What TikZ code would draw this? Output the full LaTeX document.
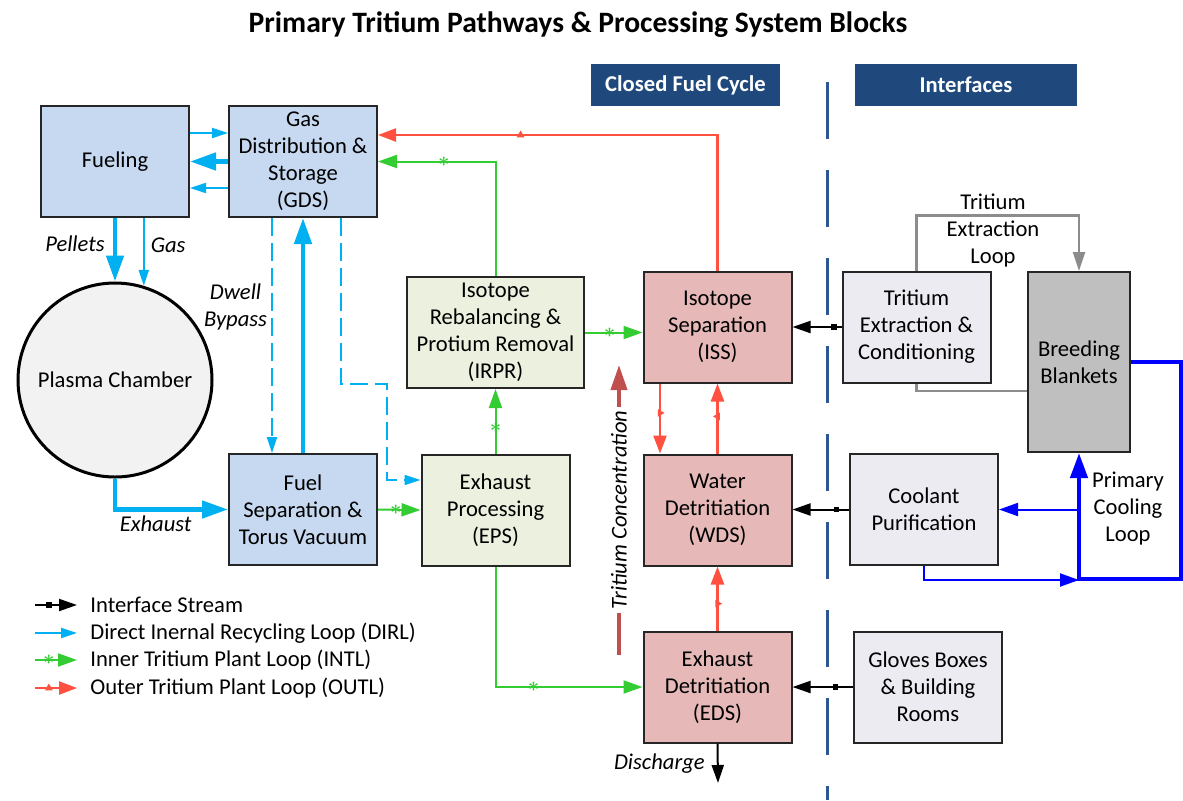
\documentclass[tikz,border=0pt]{standalone}
\usepackage{fontspec}
\setmainfont{Carlito}
\usepackage{tikz}
\usetikzlibrary{arrows.meta,calc,shapes.geometric}

\definecolor{blkblue}{HTML}{C6D9F1}
\definecolor{blkgreen}{HTML}{EBF1DE}
\definecolor{blkred}{HTML}{E6B9B8}
\definecolor{blkgray}{HTML}{EDEBF2}
\definecolor{blkdark}{HTML}{BFBFBF}
\definecolor{plasmac}{HTML}{F2F2F2}
\definecolor{headc}{HTML}{1F497D}
\definecolor{divc}{HTML}{2C5791}
\definecolor{dirlc}{HTML}{00B0F0}
\definecolor{intlc}{HTML}{33CC33}
\definecolor{outlc}{HTML}{FF5040}
\definecolor{tconcc}{HTML}{C0504D}
\definecolor{loopc}{HTML}{8C8C8C}
\definecolor{pclc}{HTML}{0000FF}

\newcommand{\basefont}{\fontsize{11.3}{13.5}\selectfont}

\begin{document}
\begin{tikzpicture}[
    x=0.5pt, y=-0.5pt,
    font=\basefont,
    blk/.style={draw=black!85, line width=1pt, align=center, inner sep=1pt,
        minimum width=74pt, minimum height=55.5pt},
    head/.style={fill=headc, text=white, font=\basefont\bfseries,
        minimum height=21pt},
    lbl/.style={font=\basefont\itshape, inner sep=2pt},
    dirl/.style={draw=dirlc, line width=1pt, -{Triangle[length=8pt,width=5pt]}},
    dirlthick/.style={draw=dirlc, line width=2.3pt, -{Triangle[length=13pt,width=8.5pt]}},
    dwell/.style={dirl, dash pattern=on 9pt off 3.5pt},
    intl/.style={draw=intlc, line width=1pt, -{Triangle[length=9.5pt,width=6.5pt]}},
    outl/.style={draw=outlc, line width=1.2pt, -{Triangle[length=9pt,width=6.5pt]}},
    iface/.style={draw=black, line width=1pt, -{Triangle[length=9pt,width=6pt]}},
    texl/.style={draw=loopc, line width=1.2pt, -{Triangle[length=9.5pt,width=6pt]}},
    pcl/.style={draw=pclc, line width=1pt, -{Triangle[length=9.5pt,width=6.5pt]}},
    pclthick/.style={draw=pclc, line width=2.2pt, -{Triangle[length=12.5pt,width=8.5pt]}},
    tconc/.style={draw=tconcc, line width=2pt, -{Triangle[length=12.5pt,width=8pt]}},
    astmark/.style={inner sep=0pt, text=intlc, font=\normalsize\boldmath},
    trimark/.style={regular polygon, regular polygon sides=3, fill=outlc,
        inner sep=0pt, minimum size=4.5pt},
    sqmark/.style={fill=black, inner sep=0pt, minimum size=2.8pt},
    nomark/.style={inner sep=0pt}
]
\useasboundingbox (0,0) rectangle (1183,800);
\node[font=\fontsize{14.8}{17}\selectfont\bfseries] (title) at (578,25) {Primary Tritium Pathways \& Processing System Blocks};
\node[head, minimum width=94.5pt] (cfc) at (685.5,85) {Closed Fuel Cycle};
\node[head, minimum width=111pt] (ifc) at (966,85) {Interfaces};
\draw[divc, line width=1.5pt, dash pattern=on 28.5pt off 15.5pt] (827,82) -- (827,800);

\node[blk, fill=blkblue] (fuel) at (115,161.5) {Fueling};
\node[blk, fill=blkblue] (gds) at (303,161.5) {Gas\\Distribution \&\\Storage\\(GDS)};
\node[circle, draw=black, line width=1.5pt, fill=plasmac, minimum size=97pt] (plasma) at (115,380) {Plasma Chamber};
\node[blk, fill=blkblue] (fsv) at (303,509.5) {Fuel\\Separation \&\\Torus Vacuum};
\node[blk, fill=blkgreen] (eps) at (495.5,510) {Exhaust\\Processing\\(EPS)};
\node[blk, fill=blkgreen, minimum width=88.5pt] (irpr) at (495.5,332.5) {Isotope\\Rebalancing \&\\Protium Removal\\(IRPR)};
\node[blk, fill=blkred] (iss) at (717.5,327) {Isotope\\Separation\\(ISS)};
\node[blk, fill=blkred] (wds) at (717.5,510) {Water\\Detritiation\\(WDS)};
\node[blk, fill=blkred] (eds) at (717.5,687) {Exhaust\\Detritiation\\(EDS)};
\node[blk, fill=blkgray] (tec) at (916.5,327) {Tritium\\Extraction \&\\Conditioning};
\node[blk, fill=blkdark, minimum width=51pt, minimum height=90pt] (bb) at (1079,362) {Breeding\\Blankets};
\node[blk, fill=blkgray] (cp) at (924,509.5) {Coolant\\Purification};
\node[blk, fill=blkgray] (gbr) at (928,687) {Gloves Boxes\\\& Building\\Rooms};

\draw[dirl] ($(fuel.east)+(0,-28.5)$) -- ($(gds.west)+(0,-28.5)$);
\draw[dirlthick] (gds.west) -- (fuel.east);
\draw[dirl] ($(gds.west)+(0,26.5)$) -- ($(fuel.east)+(0,26.5)$);
\draw[dirlthick] (fuel.south) -- node[lbl, left=2pt, pos=.4] {Pellets} (plasma.north);
\draw[dirl] (fuel.south -| plasma.73) -- node[lbl, right=1pt, pos=.4] {Gas} (plasma.73);
\draw[dwell] ($(gds.south)+(-31,0)$) -- node[lbl, left, pos=.38, align=center] {Dwell\\Bypass} ($(fsv.north)+(-31,0)$);
\draw[dirlthick] (fsv.north) -- (gds.south);
\draw[dwell] ($(gds.south)+(38,0)$) |- ++(46,166) |- ($(eps.west)+(0,-30)$);
\draw[dirlthick] (plasma.south) |- node[lbl, below, pos=.68] {Exhaust} (fsv.west);

\draw[intl] (fsv.east) -- node[astmark, pos=.42] {$\ast$} (eps.west);
\draw[intl] (eps.north) -- node[astmark, pos=.4] {$\ast$} (irpr.south);
\draw[intl] (irpr.east) -- node[astmark, pos=.43] {$\ast$} (irpr.east -| iss.west);
\draw[intl] (irpr.north) |- node[astmark, pos=.72] {$\ast$} (gds.east);
\draw[intl] (eps.south) |- node[astmark, pos=.63] {$\ast$} (eds.west);

\draw[outl] (iss.north) |- node[trimark, pos=.79] {} ($(gds.east)+(0,-26.5)$);
\draw[outl] ($(iss.south)+(-57.5,0)$) -- node[trimark, rotate=-90, pos=.42] {} ($(wds.north)+(-57.5,0)$);
\draw[outl] (wds.north) -- node[trimark, rotate=90, pos=.53] {} (iss.south);
\draw[outl] (eds.north) -- node[trimark, rotate=-90, pos=.42] {} (wds.south);

\coordinate (tcbot) at (619,655);
\coordinate (tctop) at (619,365);
\draw[tconc] (tcbot) -- node[lbl, sloped, fill=white, inner sep=1.5pt] {Tritium Concentration} (tctop);

\draw[iface] (tec.west) -- node[sqmark, pos=.15] {} (iss.east);
\draw[iface] (cp.west) -- node[sqmark, pos=.22] {} (cp.west -| wds.east);
\draw[iface] (gbr.west) -- node[sqmark, pos=.29] {} (eds.east);
\coordinate (dis) at (718,783);
\draw[iface] (eds.south) -- node[lbl, left=4pt, pos=.5] {Discharge} (dis);

\draw[texl] (tec.north) -- ++(0,-55) -| (bb.north);
\node[align=center] (tel) at (993,230) {Tritium\\Extraction\\Loop};
\draw[loopc, line width=1.2pt] ($(bb.west)+(0,29)$) -| (tec.south);

\draw[pclthick] (bb.east) -| ++(50,217) -| (bb.south);
\draw[pcl] (cp.east -| bb.south) -- (cp.east);
\draw[pcl] (cp.south) |- ($(bb.south)+(0,127)$);
\node[align=center] (pcll) at (1128,509) {Primary\\Cooling\\Loop};

\foreach \yy/\sty/\mk/\mt/\txt in {
  605/iface/sqmark/{}/Interface Stream,
  633/dirl/nomark/{}/Direct Inernal Recycling Loop (DIRL),
  660/intl/astmark/{$\ast$}/Inner Tritium Plant Loop (INTL),
  688/outl/trimark/{}/Outer Tritium Plant Loop (OUTL)}{
    \coordinate (la\yy) at (35,\yy);
    \coordinate (lb\yy) at (77,\yy);
    \draw[\sty] (la\yy) -- node[\mk, pos=.33] {\mt} (lb\yy);
    \node[anchor=west, inner sep=0pt] (lt\yy) at (90,\yy) {\txt};
}
\end{tikzpicture}
\end{document}
